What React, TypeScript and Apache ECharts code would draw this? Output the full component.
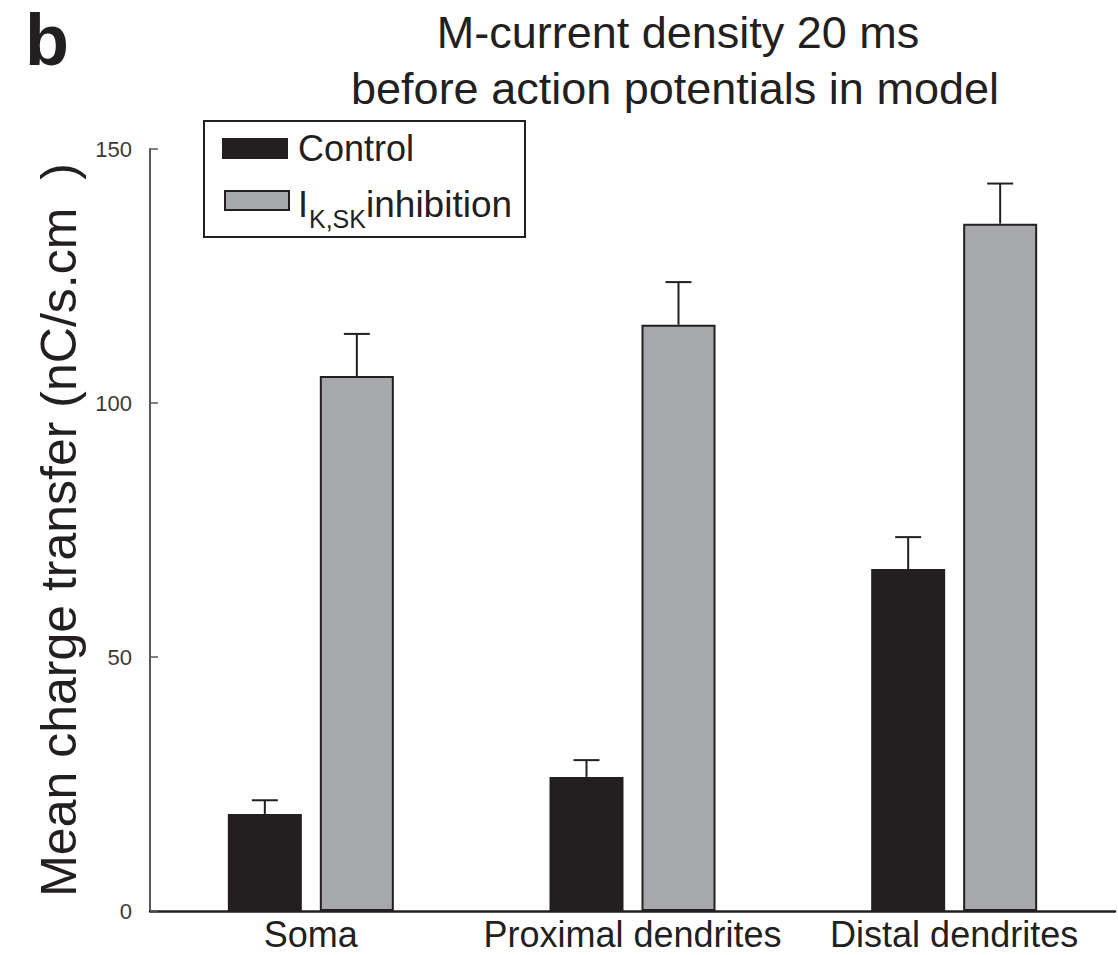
import React, { useEffect, useRef } from "react";
import * as echarts from "echarts";

const categories = ["Soma", "Proximal dendrites", "Distal dendrites"];
const controlValues = [19.1, 26.4, 67.3];
const controlErrors = [2.7, 3.3, 6.3];
const inhibitionValues = [105.3, 115.4, 135.3];
const inhibitionErrors = [8.3, 8.4, 7.9];
const yTicks = { min: 0, max: 150, interval: 50 };

const FONT = "'Liberation Sans', Arial, Helvetica, sans-serif";
const DARK = "#231f20";
const GRAY = "#a7a8ab";

const BAR_W = 74;
const BAR_GAP = 18;

function errorSeries(name: string, values: number[], errors: number[], side: number) {
  return {
    name,
    type: "custom",
    z: 5,
    data: values.map((v, i) => [i, v, errors[i]]),
    renderItem: (_params: any, api: any) => {
      const cat = api.value(0);
      const v = api.value(1);
      const e = api.value(2);
      const base = api.coord([cat, v]);
      const top = api.coord([cat, v + e]);
      const x = base[0] + side * (BAR_W + BAR_GAP) / 2;
      return {
        type: "group",
        children: [
          { type: "line", shape: { x1: x, y1: base[1], x2: x, y2: top[1] }, style: { stroke: DARK, lineWidth: 2 } },
          { type: "line", shape: { x1: x - 13, y1: top[1], x2: x + 13, y2: top[1] }, style: { stroke: DARK, lineWidth: 2 } },
        ],
      };
    },
  };
}

export default function App() {
  const ref = useRef<HTMLDivElement>(null);
  useEffect(() => {
    if (!ref.current) return;
    const chart = echarts.init(ref.current, null, { renderer: "svg" });
    chart.setOption({
      animation: false,
      backgroundColor: "#ffffff",
      textStyle: { fontFamily: FONT },
      grid: { left: 150, right: 3, top: 149, bottom: 44, containLabel: false },
      xAxis: {
        type: "category",
        data: categories,
        axisLine: { lineStyle: { color: DARK, width: 2.5 } },
        axisTick: { inside: true, alignWithLabel: true, length: 8, lineStyle: { color: DARK, width: 1.5 } },
        axisLabel: { color: DARK, fontSize: 36, lineHeight: 38, fontFamily: FONT, margin: 4, interval: 0, hideOverlap: false },
      },
      yAxis: {
        type: "value",
        min: yTicks.min,
        max: yTicks.max,
        interval: yTicks.interval,
        name: "Mean charge transfer (nC/s.cm  )",
        nameLocation: "middle",
        nameGap: 47,
        nameTextStyle: { color: DARK, fontSize: 50, fontFamily: FONT },
        splitLine: { show: false },
        axisLine: { show: true, lineStyle: { color: "#58595b", width: 2 } },
        axisTick: { show: true, inside: true, length: 8, lineStyle: { color: "#58595b", width: 1.5 } },
        axisLabel: { color: "#3a3a3a", fontSize: 22, fontFamily: FONT, margin: 18 },
      },
      series: [
        {
          name: "Control",
          type: "bar",
          data: controlValues,
          barWidth: BAR_W,
          barGap: (BAR_GAP / BAR_W) * 100 + "%",
          itemStyle: { color: DARK, borderColor: DARK, borderWidth: 2 },
        },
        {
          name: "IK,SK inhibition",
          type: "bar",
          data: inhibitionValues,
          barWidth: BAR_W,
          itemStyle: { color: GRAY, borderColor: DARK, borderWidth: 2 },
        },
        errorSeries("Control error", controlValues, controlErrors, -1),
        errorSeries("Inhibition error", inhibitionValues, inhibitionErrors, 1),
      ],
      graphic: [
        { type: "text", x: 25, y: 40, style: { text: "b", font: `bold 72px ${FONT}`, fill: DARK, textVerticalAlign: "middle" } },
        {
          type: "text",
          x: 678,
          y: 32,
          style: { text: "M-current density 20 ms", font: `45px ${FONT}`, fill: DARK, textAlign: "center", textVerticalAlign: "middle" },
        },
        {
          type: "text",
          x: 675,
          y: 88,
          style: { text: "before action potentials in model", font: `45px ${FONT}`, fill: DARK, textAlign: "center", textVerticalAlign: "middle" },
        },
        {
          type: "group",
          children: [
            { type: "rect", shape: { x: 204, y: 121, width: 321, height: 116 }, style: { fill: "#fff", stroke: DARK, lineWidth: 2 } },
            { type: "rect", shape: { x: 222, y: 138, width: 66, height: 21 }, style: { fill: DARK } },
            { type: "text", x: 298, y: 148, style: { text: "Control", font: `36px ${FONT}`, fill: DARK, textVerticalAlign: "middle" } },
            { type: "rect", shape: { x: 225, y: 191, width: 64, height: 19 }, style: { fill: GRAY, stroke: DARK, lineWidth: 2 } },
            { type: "text", x: 298, y: 204, style: { text: "I", font: `36px ${FONT}`, fill: DARK, textVerticalAlign: "middle" } },
            { type: "text", x: 309, y: 219, style: { text: "K,SK", font: `25px ${FONT}`, fill: DARK, textVerticalAlign: "middle" } },
            { type: "text", x: 366, y: 204, style: { text: "inhibition", font: `37px ${FONT}`, fill: DARK, textVerticalAlign: "middle" } },
          ],
        },
      ],
    });
    return () => chart.dispose();
  }, []);
  return <div ref={ref} style={{ position: "fixed", left: 0, top: 0, width: 1118, height: 955 }} />;
}
